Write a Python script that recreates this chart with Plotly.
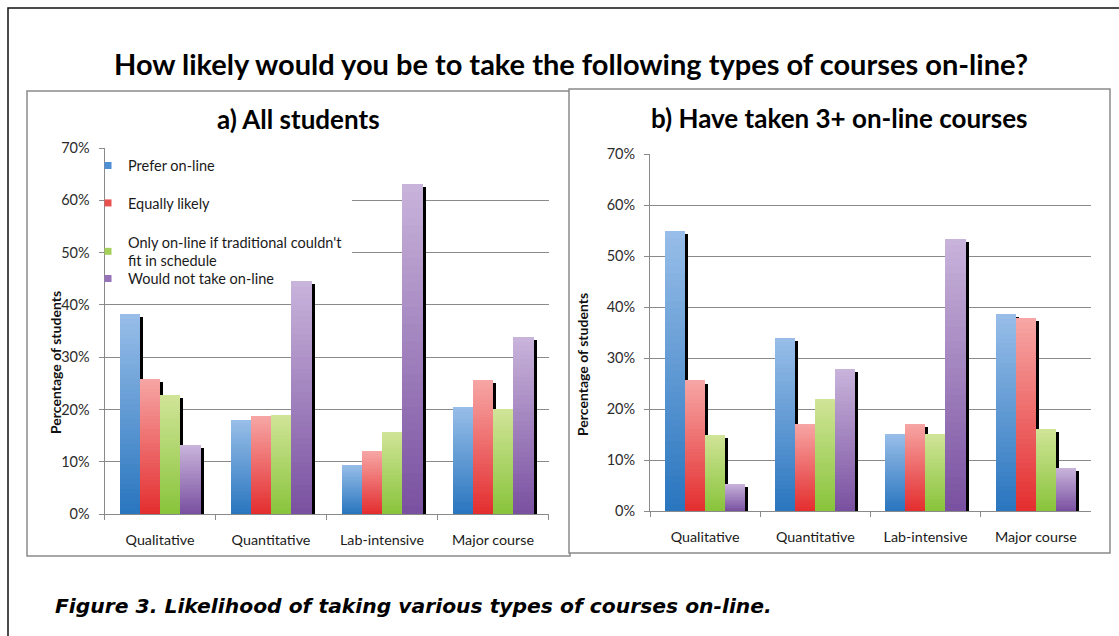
import plotly.graph_objects as go

categories = ["Qualitative", "Quantitative", "Lab-intensive", "Major course"]
series_names = ["Prefer on-line", "Equally likely",
                "Only on-line if traditional couldn't<br>fit in schedule",
                "Would not take on-line"]

all_prefer = [38.3, 17.9, 9.4, 20.5]
all_equal = [25.9, 18.7, 12.0, 25.6]
all_only = [22.7, 19.0, 15.7, 20.0]
all_wouldnot = [13.2, 44.5, 63.2, 33.8]

exp_prefer = [55.0, 34.0, 15.1, 38.7]
exp_equal = [25.6, 17.1, 17.1, 37.8]
exp_only = [15.0, 22.0, 15.1, 16.1]
exp_wouldnot = [5.3, 27.9, 53.4, 8.4]

y_ticks = [0, 10, 20, 30, 40, 50, 60, 70]
y_tick_labels = ["0%", "10%", "20%", "30%", "40%", "50%", "60%", "70%"]

TOP = ["#97bde8", "#f6a5a4", "#d0e497", "#c8b3da"]
BOTTOM = ["#2a76bf", "#e42f30", "#89c43c", "#7a51a1"]
LEGEND_COL = ["#4f8fd3", "#e9514f", "#a6d05c", "#9673b9"]

W, H = 1119, 636
FONT = "Lato"
N_LAYERS = 40
BAR_W = 0.182
GROUP_START = -0.366
SHADOW_W = 0.027


def hex2rgb(h):
    h = h.lstrip("#")
    return tuple(int(h[i:i + 2], 16) for i in (0, 2, 4))


def mix(c1, c2, t):
    a, b = hex2rgb(c1), hex2rgb(c2)
    return "rgb(%d,%d,%d)" % tuple(round(a[i] + (b[i] - a[i]) * t) for i in range(3))


def px(x):
    return x / W


def py(y):
    return 1 - y / H


fig = go.Figure()


def add_panel(data, xa, ya):
    # black shadows first (behind the bars)
    for i, vals in enumerate(data):
        fig.add_trace(go.Bar(
            x=categories, y=[max(v - 0.6, 0) for v in vals],
            width=SHADOW_W, offset=GROUP_START + (i + 1) * BAR_W,
            marker=dict(color="#000000", line=dict(width=0)),
            xaxis=xa, yaxis=ya, showlegend=False, hoverinfo="skip"))
    # gradient bars: overlapping layers, light at top to dark at bottom
    for i, vals in enumerate(data):
        for k in range(N_LAYERS):
            frac = 1 - k / N_LAYERS
            col = mix(TOP[i], BOTTOM[i], k / (N_LAYERS - 1))
            fig.add_trace(go.Bar(
                x=categories, y=[v * frac for v in vals],
                width=BAR_W, offset=GROUP_START + i * BAR_W,
                marker=dict(color=col, line=dict(width=0)),
                xaxis=xa, yaxis=ya, showlegend=False,
                hoverinfo="skip" if k else "y", name=series_names[i]))


add_panel([all_prefer, all_equal, all_only, all_wouldnot], "x", "y")
add_panel([exp_prefer, exp_equal, exp_only, exp_wouldnot], "x2", "y2")

# legend entries (one legend per entry for exact spacing)
legend_keys = ["legend", "legend2", "legend3", "legend4"]
legend_y = [165.5, 203, 251.5, 278.5]
for i in range(4):
    fig.add_trace(go.Scatter(x=[None], y=[None], name=series_names[i], mode="markers",
                             marker=dict(color=LEGEND_COL[i], symbol="square", size=7),
                             xaxis="x", yaxis="y", showlegend=True, legend=legend_keys[i]))

grid_col = "#8a8a8a"
common_y = dict(range=[0, 70], tickmode="array", tickvals=y_ticks, ticktext=y_tick_labels,
                showgrid=True, gridcolor=grid_col, gridwidth=1, showline=True,
                linecolor=grid_col, linewidth=1, ticks="outside", ticklen=5,
                tickcolor=grid_col, tickfont=dict(family=FONT, size=14.5, color="#2b2b2b"),
                ticklabelstandoff=6, zeroline=False, fixedrange=True)
common_x = dict(type="category", range=[-0.5, 3.5], showline=True, linecolor=grid_col,
                linewidth=1, ticks="outside", ticklen=5, tickcolor=grid_col,
                tickson="boundaries", showgrid=False,
                tickfont=dict(family=FONT, size=14.3, color="#1a1a1a"),
                ticklabelstandoff=13, fixedrange=True)

layout = dict(
    width=W, height=H, autosize=False,
    margin=dict(l=0, r=0, t=0, b=0, pad=0, autoexpand=False),
    paper_bgcolor="white", plot_bgcolor="rgba(0,0,0,0)",
    barmode="overlay", bargap=0,
    xaxis=dict(domain=[px(104.5), px(548.5)], anchor="y", **common_x),
    yaxis=dict(domain=[py(514), py(148)], anchor="x", **common_y),
    xaxis2=dict(domain=[px(650), px(1091)], anchor="y2", **common_x),
    yaxis2=dict(domain=[py(511), py(154)], anchor="x2", **common_y),
)
for i, key in enumerate(legend_keys):
    layout[key] = dict(x=px(88), xanchor="left", y=py(legend_y[i]), yanchor="middle",
                       bgcolor="rgba(0,0,0,0)", borderwidth=0,
                       font=dict(family=FONT, size=14.5, color="#1a1a1a"),
                       itemclick=False, itemdoubleclick=False)
fig.update_layout(**layout)

shapes = [
    # outer frame
    dict(type="rect", xref="paper", yref="paper", x0=px(8), x1=1.05, y0=-0.05, y1=py(8),
         line=dict(color="#111", width=1.5), layer="below"),
    # panel a frame
    dict(type="rect", xref="paper", yref="paper", x0=px(27), x1=px(570), y0=py(556), y1=py(91),
         line=dict(color="#8a8a8a", width=1.5), fillcolor="white", layer="below"),
    # panel b frame
    dict(type="rect", xref="paper", yref="paper", x0=px(569), x1=px(1110), y0=py(553), y1=py(89),
         line=dict(color="#8a8a8a", width=1.5), fillcolor="white", layer="below"),
    # legend background hiding gridlines
    dict(type="rect", xref="x", yref="y", x0=-0.49, x1=1.73, y0=45, y1=68.8,
         line=dict(width=0), fillcolor="white", layer="between"),
]
fig.update_layout(shapes=shapes)

annotations = [
    dict(text="<b>How likely would you be to take the following types of courses on-line?</b>",
         x=px(570.5), y=py(63), xref="paper", yref="paper", showarrow=False,
         xanchor="center", yanchor="middle", font=dict(family=FONT, size=29, color="#000")),
    dict(text="<b>a) All students</b>", x=px(299), y=py(119), xref="paper", yref="paper",
         showarrow=False, xanchor="center", yanchor="middle",
         font=dict(family=FONT, size=26, color="#000")),
    dict(text="<b>b) Have taken 3+ on-line courses</b>", x=px(840), y=py(118), xref="paper",
         yref="paper", showarrow=False, xanchor="center", yanchor="middle",
         font=dict(family=FONT, size=26, color="#000")),
    dict(text="<b>Percentage of students</b>", x=px(55), y=py(363), xref="paper",
         yref="paper", showarrow=False, textangle=-90, xanchor="center", yanchor="middle",
         font=dict(family=FONT, size=14, color="#111")),
    dict(text="<b>Percentage of students</b>", x=px(582), y=py(365), xref="paper",
         yref="paper", showarrow=False, textangle=-90, xanchor="center", yanchor="middle",
         font=dict(family=FONT, size=14, color="#111")),
    dict(text="<b><i>Figure 3. Likelihood of taking various types of courses on-line.</i></b>",
         x=px(53), y=py(606), xref="paper", yref="paper", showarrow=False,
         xanchor="left", yanchor="middle",
         font=dict(family="DejaVu Sans", size=20.3, color="#000")),
]
fig.update_layout(annotations=annotations)

fig.write_html("out.html")
